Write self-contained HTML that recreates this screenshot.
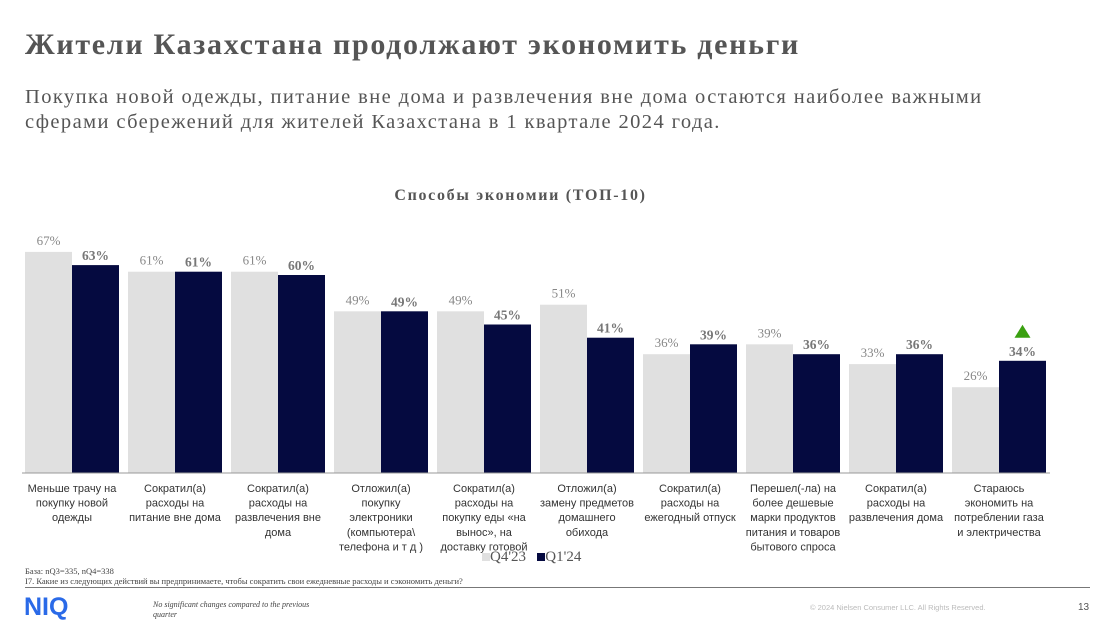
<!DOCTYPE html>
<html><head><meta charset="utf-8"><style>
body{margin:0;width:1118px;height:629px;background:#fff;font-family:"Liberation Serif","Noto Serif CJK SC",serif;position:relative;overflow:hidden}
.a{position:absolute}
</style></head><body>
<div class="a" style="left:25px;top:28px;font-size:30px;font-weight:bold;color:#555;letter-spacing:1.7px;white-space:nowrap">Жители Казахстана продолжают экономить деньги</div>
<div class="a" style="left:25px;top:85px;font-size:20.5px;color:#555;line-height:25px;width:1000px;letter-spacing:1.4px">Покупка новой одежды, питание вне дома и развлечения вне дома остаются наиболее важными сферами сбережений для жителей Казахстана в 1 квартале 2024 года.</div>
<div class="a" style="left:0;width:1041px;text-align:center;top:187px;font-size:16px;font-weight:bold;color:#555;letter-spacing:1.7px">Способы экономии (ТОП-10)</div>
<svg class="a" style="left:0;top:0" width="1118" height="629" id="chart"></svg>
<div class="a" style="left:482px;top:549px;font-size:15px;color:#555">
<span><span style="display:inline-block;width:8px;height:8px;background:#e0e0e0"></span>Q4'23</span>&nbsp;&nbsp;
<span><span style="display:inline-block;width:8px;height:8px;background:#050a40"></span>Q1'24</span></div>
<div class="a" style="left:25px;top:566px;font-size:8.5px;color:#444;line-height:10px">База: nQ3=335, nQ4=338<br>I7. Какие из следующих действий вы предпринимаете, чтобы сократить свои ежедневные расходы и сэкономить деньги?</div>
<div class="a" style="left:25px;top:587px;width:1065px;height:1px;background:#777"></div>
<div class="a" style="left:24px;top:593px;font-family:'Liberation Sans',sans-serif;font-weight:bold;font-size:25px;color:#2a6ae8">NIQ</div>
<div class="a" style="left:153px;top:600px;font-size:8px;font-style:italic;color:#444;line-height:10px">No significant changes compared to the previous<br>quarter</div>
<div class="a" style="left:810px;top:603px;font-family:'Liberation Sans',sans-serif;font-size:7.5px;color:#bbb">© 2024 Nielsen Consumer LLC. All Rights Reserved.</div>
<div class="a" style="left:1078px;top:602px;font-family:'Liberation Sans',sans-serif;font-size:10px;color:#555">13</div>
<script>
const categories=[["Меньше трачу на","покупку новой","одежды"],["Сократил(а)","расходы на","питание вне дома"],["Сократил(а)","расходы на","развлечения вне","дома"],["Отложил(а)","покупку","электроники","(компьютера\\","телефона и т д )"],["Сократил(а)","расходы на","покупку еды «на","вынос», на","доставку готовой"],["Отложил(а)","замену предметов","домашнего","обихода"],["Сократил(а)","расходы на","ежегодный отпуск"],["Перешел(-ла) на","более дешевые","марки продуктов","питания и товаров","бытового спроса"],["Сократил(а)","расходы на","развлечения дома"],["Стараюсь","экономить на","потреблении газа","и электричества"]];
const q4=[67,61,61,49,49,51,36,39,33,26];
const q1=[63,61,60,49,45,41,39,36,36,34];
const sigUp=[false,false,false,false,false,false,false,false,false,true];
const svg=document.getElementById('chart');const NS='http://www.w3.org/2000/svg';
const base=473,k=3.3,x0=25,pitch=103,bw=47;
const y=v=>base-v*k;
function el(t,a){const e=document.createElementNS(NS,t);for(const n in a)e.setAttribute(n,a[n]);svg.appendChild(e);return e;}
function txt(x,yy,s,o){const e=el('text',Object.assign({x:x,y:yy,'text-anchor':'middle','font-family':'Liberation Serif, serif'},o));e.textContent=s;return e;}
categories.forEach((c,i)=>{
const gx=x0+i*pitch;
const r1=el('rect',{x:gx,y:y(q4[i]),width:bw,height:q4[i]*k,fill:'#e0e0e0'});

const r2=el('rect',{x:gx+bw,y:y(q1[i]),width:bw,height:q1[i]*k,fill:'#050a40'});

const t1=txt(gx+bw/2,y(q4[i])-7,q4[i]+'%',{'font-size':13,fill:'#888'});

const t2=txt(gx+bw*1.5,y(q1[i])-5,q1[i]+'%',{'font-size':13.5,'font-weight':'bold',fill:'#777'});

if(sigUp[i]){const p=el('polygon',{points:`${gx+bw*1.5-8},${y(q1[i])-23} ${gx+bw*1.5+8},${y(q1[i])-23} ${gx+bw*1.5},${y(q1[i])-36}`,fill:'#3aa010'});
}
c.forEach((l,j)=>{const t=txt(gx+bw,492+j*14.6,l,{'font-size':11,fill:'#333','font-family':'Liberation Sans, sans-serif'});
});
});
const ax=el('line',{x1:22,x2:1050,y1:base,y2:base,stroke:'#999','stroke-width':1});

</script>
</body></html>
